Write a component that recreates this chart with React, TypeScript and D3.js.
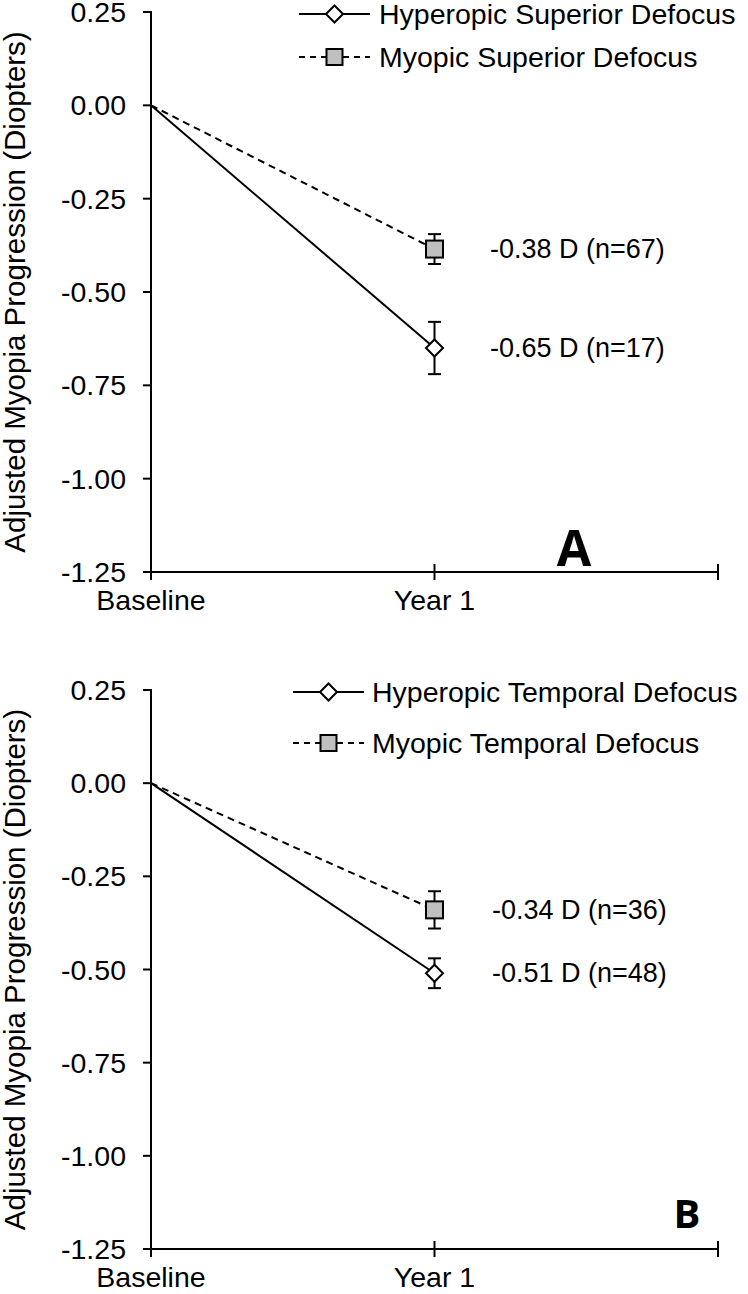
import React from "react";
import * as d3 from "d3";

const W = 748;
const H = 1294;

const categories = ["Baseline", "Year 1"];
const yTickValues = [0.25, 0, -0.25, -0.5, -0.75, -1.0, -1.25];
const yTickLabels = ["0.25", "0.00", "-0.25", "-0.50", "-0.75", "-1.00", "-1.25"];

// Panel A
const hyperSupValues = [0, -0.65];
const hyperSupErr = [0, 0.07];
const myoSupValues = [0, -0.385];
const myoSupErr = [0, 0.04];
const labelsA = ["-0.38 D (n=67)", "-0.65 D (n=17)"];

// Panel B
const hyperTempValues = [0, -0.51];
const hyperTempErr = [0, 0.04];
const myoTempValues = [0, -0.34];
const myoTempErr = [0, 0.05];
const labelsB = ["-0.34 D (n=36)", "-0.51 D (n=48)"];

const FONT = "'Liberation Sans', Arial, sans-serif";

type PanelProps = {
  top: number;
  bottom: number;
  hyper: number[];
  hyperErr: number[];
  myo: number[];
  myoErr: number[];
  hyperName: string;
  myoName: string;
  annots: string[];
  annotX: number;
  letter: string;
  letterX: number;
  letterY: number;
  letterSize: number;
  legendX0: number;
  legendX1: number;
  legendTextX: number;
  legendY: number[];
};

function Diamond({ cx, cy, r }: { cx: number; cy: number; r: number }) {
  return (
    <path
      d={`M${cx},${cy - r}L${cx + r},${cy}L${cx},${cy + r}L${cx - r},${cy}Z`}
      fill="#fff"
      stroke="#000"
      strokeWidth={2}
    />
  );
}

function Square({ cx, cy, s }: { cx: number; cy: number; s: number }) {
  return (
    <rect x={cx - s / 2} y={cy - s / 2} width={s} height={s} fill="#c0c0c0" stroke="#000" strokeWidth={2} />
  );
}

function Panel(p: PanelProps) {
  const x = d3.scaleLinear().domain([0, 2]).range([151, 718]);
  const y = d3.scaleLinear().domain([0.25, -1.25]).range([p.top, p.bottom]);
  const line = d3
    .line<number>()
    .x((_, i) => x(i))
    .y((d) => y(d));
  const ax = x(0);
  const xTicks = [0, 1, 2];
  const errBar = (vals: number[], errs: number[], key: string) =>
    vals.map((v, i) =>
      errs[i] > 0 ? (
        <g key={key + i} stroke="#000" strokeWidth={2}>
          <line x1={x(i)} x2={x(i)} y1={y(v + errs[i])} y2={y(v - errs[i])} />
          <line x1={x(i) - 6.5} x2={x(i) + 6.5} y1={y(v + errs[i])} y2={y(v + errs[i])} />
          <line x1={x(i) - 6.5} x2={x(i) + 6.5} y1={y(v - errs[i])} y2={y(v - errs[i])} />
        </g>
      ) : null
    );
  const last = categories.length - 1;
  return (
    <g>
      {/* y axis */}
      <line x1={ax} x2={ax} y1={p.top - 1} y2={p.bottom + 8} stroke="#000" strokeWidth={2} />
      {yTickValues.map((v, i) => (
        <g key={"yt" + i}>
          <line x1={ax - 8} x2={ax} y1={y(v)} y2={y(v)} stroke="#000" strokeWidth={2} />
          <text
            x={126}
            y={y(v) + 10}
            textAnchor="end"
            fontFamily={FONT}
            fontSize={28.5}
            fill="#000"
          >
            {yTickLabels[i]}
          </text>
        </g>
      ))}
      {/* x axis */}
      <line x1={ax - 8} x2={x(2)} y1={p.bottom} y2={p.bottom} stroke="#000" strokeWidth={2} />
      {xTicks.map((t) => (
        <line key={"xt" + t} x1={x(t)} x2={x(t)} y1={p.bottom - 8} y2={p.bottom + 8} stroke="#000" strokeWidth={2} />
      ))}
      {categories.map((c, i) => (
        <text
          key={"xc" + i}
          x={x(i)}
          y={p.bottom + 38}
          textAnchor="middle"
          fontFamily={FONT}
          fontSize={28.5}
          fill="#000"
        >
          {c}
        </text>
      ))}
      {/* y title */}
      <text
        transform={`translate(25,${(p.top + p.bottom) / 2}) rotate(-90)`}
        textAnchor="middle"
        fontFamily={FONT}
        fontSize={29.5}
        fill="#000"
      >
        Adjusted Myopia Progression (Diopters)
      </text>
      {/* series lines */}
      <path d={line(p.myo) || ""} fill="none" stroke="#000" strokeWidth={2} strokeDasharray="7,5" />
      <path d={line(p.hyper) || ""} fill="none" stroke="#000" strokeWidth={2} />
      {errBar(p.myo, p.myoErr, "me")}
      {errBar(p.hyper, p.hyperErr, "he")}
      <Square cx={x(last)} cy={y(p.myo[last])} s={17} />
      <Diamond cx={x(last)} cy={y(p.hyper[last])} r={8.5} />
      {/* annotations */}
      <text x={p.annotX} y={y(p.myo[last]) + 9} fontFamily={FONT} fontSize={27} fill="#000">
        {p.annots[0]}
      </text>
      <text x={p.annotX} y={y(p.hyper[last]) + 9} fontFamily={FONT} fontSize={27} fill="#000">
        {p.annots[1]}
      </text>
      {/* legend */}
      <line x1={p.legendX0} x2={p.legendX1} y1={p.legendY[0]} y2={p.legendY[0]} stroke="#000" strokeWidth={2} />
      <Diamond cx={(p.legendX0 + p.legendX1) / 2} cy={p.legendY[0]} r={8.5} />
      <text x={p.legendTextX} y={p.legendY[0] + 10} fontFamily={FONT} fontSize={28.5} fill="#000">
        {p.hyperName}
      </text>
      <line
        x1={p.legendX0}
        x2={p.legendX1}
        y1={p.legendY[1]}
        y2={p.legendY[1]}
        stroke="#000"
        strokeWidth={2}
        strokeDasharray="6,5"
      />
      <Square cx={(p.legendX0 + p.legendX1) / 2} cy={p.legendY[1]} s={16} />
      <text x={p.legendTextX} y={p.legendY[1] + 10} fontFamily={FONT} fontSize={28.5} fill="#000">
        {p.myoName}
      </text>
      {/* panel letter */}
      <text
        x={p.letterX}
        y={p.letterY}
        textAnchor="middle"
        fontFamily="'Open Sans', 'DejaVu Sans', sans-serif"
        fontWeight="bold"
        fontSize={p.letterSize}
        fill="#000"
      >
        {p.letter}
      </text>
    </g>
  );
}

export default function App() {
  return (
    <svg
      width={W}
      height={H}
      viewBox={`0 0 ${W} ${H}`}
      style={{ position: "absolute", left: 0, top: 0, background: "#fff" }}
    >
      <rect x={0} y={0} width={W} height={H} fill="#fff" />
      <Panel
        top={12}
        bottom={572}
        hyper={hyperSupValues}
        hyperErr={hyperSupErr}
        myo={myoSupValues}
        myoErr={myoSupErr}
        hyperName="Hyperopic Superior Defocus"
        myoName="Myopic Superior Defocus"
        annots={labelsA}
        annotX={490}
        letter="A"
        letterX={574}
        letterY={566}
        letterSize={50}
        legendX0={299}
        legendX1={370}
        legendTextX={379}
        legendY={[14, 57]}
      />
      <Panel
        top={690}
        bottom={1249}
        hyper={hyperTempValues}
        hyperErr={hyperTempErr}
        myo={myoTempValues}
        myoErr={myoTempErr}
        hyperName="Hyperopic Temporal Defocus"
        myoName="Myopic Temporal Defocus"
        annots={labelsB}
        annotX={492}
        letter="B"
        letterX={687}
        letterY={1228}
        letterSize={40}
        legendX0={293}
        legendX1={364}
        legendTextX={372}
        legendY={[692, 743]}
      />
    </svg>
  );
}
